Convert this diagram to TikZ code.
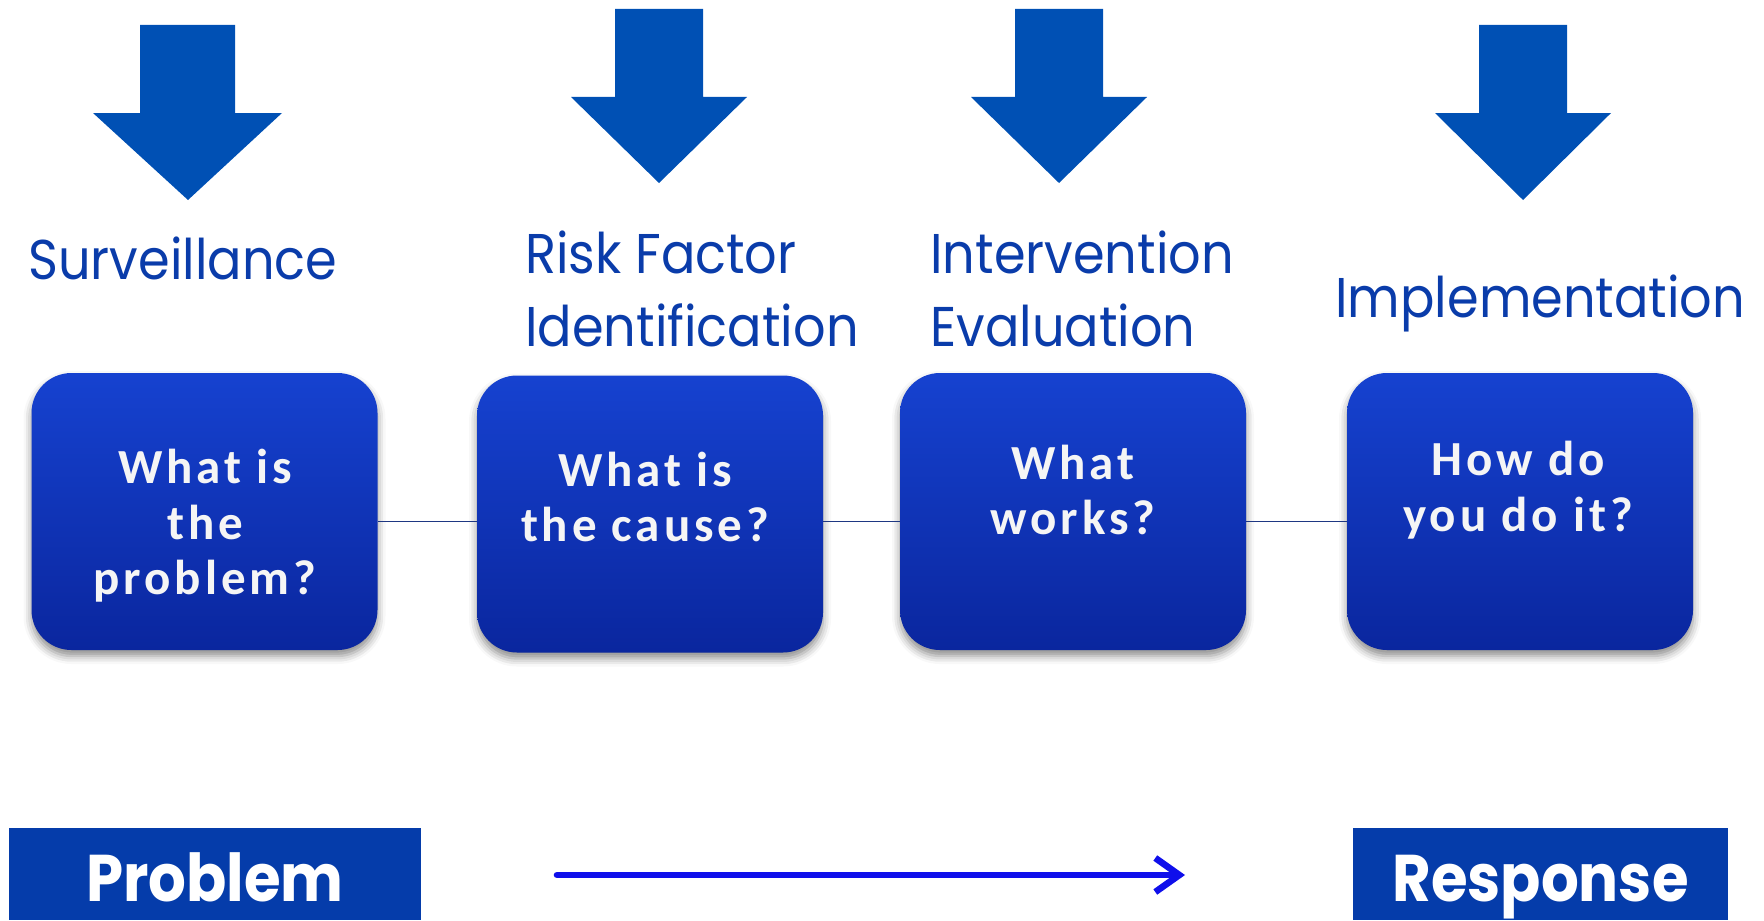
\documentclass[tikz,border=0pt]{standalone}
\usepackage{fontspec}
\setmainfont{Poppins}
\newfontfamily\labelfont[FakeStretch=0.91]{Poppins}
\newfontfamily\barfont[FakeStretch=0.9]{Poppins}
\newfontfamily\boxfont[LetterSpace=8]{Carlito}
\usetikzlibrary{shadows.blur,arrows.meta}
\definecolor{arrowblue}{RGB}{0,80,180}
\definecolor{labelblue}{RGB}{10,60,170}
\definecolor{boxtop}{RGB}{22,66,208}
\definecolor{boxbot}{RGB}{10,38,158}
\definecolor{barblue}{RGB}{5,60,170}
\definecolor{linkblue}{RGB}{30,55,130}
\definecolor{flowblue}{RGB}{15,15,235}
\definecolor{qwhite}{RGB}{245,245,245}
\begin{document}
\begin{tikzpicture}[x=0.5pt,y=-0.5pt,
  blockarrow/.style={fill=arrowblue,draw=none},
  stagelabel/.style={inner sep=0pt,text=labelblue,align=left,
    font=\labelfont\fontsize{28}{36.5}\selectfont},
  qbox/.style={rounded corners=20pt,minimum width=173pt,minimum height=138.5pt,
    top color=boxtop,bottom color=boxbot,draw=none,
    blur shadow={shadow xshift=0pt,shadow yshift=-3pt,shadow blur radius=4pt,shadow opacity=45}},
  qtext/.style={inner sep=0pt,text=qwhite,align=center,
    font=\boxfont\bfseries\fontsize{24.5}{27.8}\selectfont},
  link/.style={draw=linkblue,line width=0.7pt},
  bar/.style={fill=barblue,draw=none,inner sep=0pt,minimum height=46pt,text=white,
    font=\barfont\bfseries\fontsize{33}{40}\selectfont,text height=27.5pt,text depth=0pt},
  flow/.style={draw=flowblue,line width=3.3pt,line cap=round,line join=round,
    -{Straight Barb[length=12pt,width=17pt]}}
]
\useasboundingbox (0,0) rectangle (1764,920);
% block arrows
\fill[blockarrow] (140,25) -- (235,25) -- (235,113) -- (282,113) -- (188,200) -- (93,113) -- (140,113) -- cycle;
\fill[blockarrow] (615,9) -- (703,9) -- (703,97) -- (747,97) -- (659,183) -- (571,97) -- (615,97) -- cycle;
\fill[blockarrow] (1015,9) -- (1103,9) -- (1103,97) -- (1147,97) -- (1059,183) -- (971,97) -- (1015,97) -- cycle;
\fill[blockarrow] (1479,25) -- (1567,25) -- (1567,113) -- (1611,113) -- (1523,200) -- (1435,113) -- (1479,113) -- cycle;
% stage labels
\node[stagelabel,anchor=base west] (l1) at (28,279) {Surveillance};
\node[stagelabel,anchor=base west] (l2) at (525,346) {Risk Factor\\Identification};
\node[stagelabel,anchor=base west] (l3) at (930,346) {Intervention\\Evaluation};
\node[stagelabel,anchor=base west] (l4) at (1335,317) {Implementation};
% question boxes
\node[qbox] (b1) at (204.5,511.5) {};
\node[qbox] (b2) at (650,514) {};
\node[qbox] (b3) at (1073,511.5) {};
\node[qbox] (b4) at (1520,511.5) {};
\draw[link] ([yshift=-5pt]b1.east) -- ([yshift=-5pt]b1.east -| b2.west);
\draw[link] ([yshift=-5pt]b3.west -| b2.east) -- ([yshift=-5pt]b3.west);
\draw[link] ([yshift=-5pt]b3.east) -- ([yshift=-5pt]b4.west);
\node[qtext] (t1) at (205,526) {What is\\the\\problem?};
\node[qtext] (t2) at (645,497) {What is\\the cause?};
\node[qtext] (t3) at (1073,490) {What\\works?};
\node[qtext] (t4) at (1518,490) {How do\\you do it?};
% bottom bars
\node[bar,minimum width=206pt] (prob) at (215,874) {Problem};
\node[bar,minimum width=187.5pt] (resp) at (1540.5,874) {Response};
\coordinate (fa) at (557,875);
\coordinate (fb) at (1185,875);
\draw[flow] (fa) -- (fb);
\end{tikzpicture}
\end{document}
